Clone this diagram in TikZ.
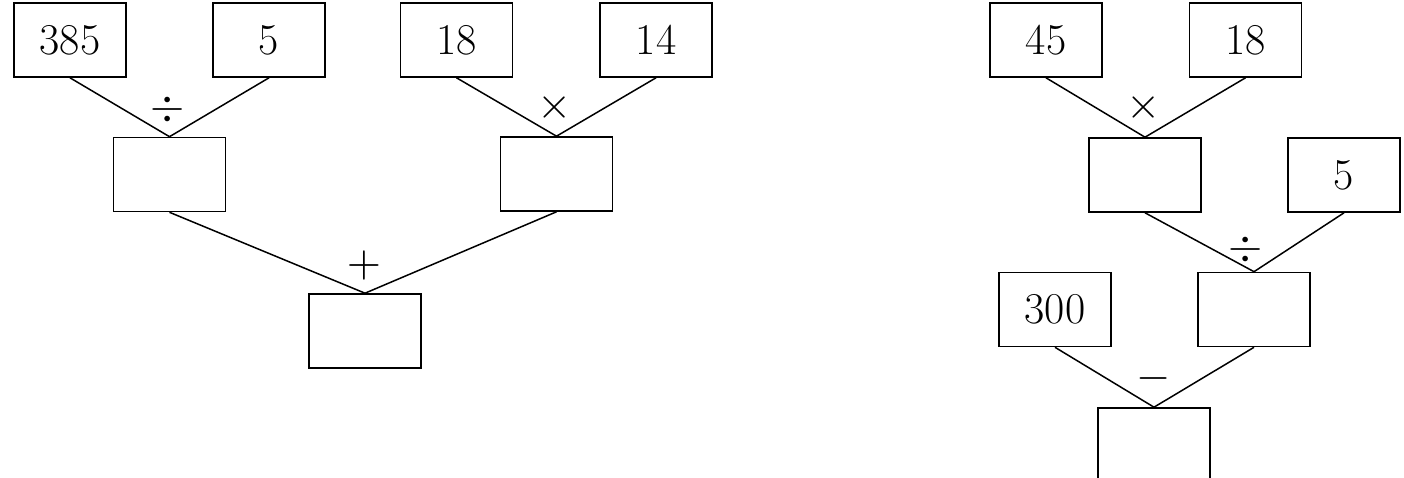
\documentclass[tikz,border=0pt]{standalone}
\usepackage{graphicx}
\newcommand{\bigop}[1]{\scalebox{4.4}{$#1$}}
\begin{document}
\begin{tikzpicture}[x=1pt,y=-1pt,
  numbox/.style={draw, line width=1.6pt, minimum width=112pt, minimum height=74pt, inner sep=0pt, font=\fontsize{44}{50}\selectfont},
  opsym/.style={inner sep=0pt},
  link/.style={line width=1.5pt}]
\useasboundingbox (0,0) rectangle (1404,478);
% left tree
\node[numbox] (a1) at (70,40) {385};
\node[numbox] (a2) at (269,40) {5};
\node[numbox] (a3) at (456.5,40) {18};
\node[numbox] (a4) at (656,40) {14};
\node[numbox] (b1) at (169.5,174.5) {};
\node[numbox] (b2) at (556.5,174) {};
\node[numbox] (c1) at (365,331) {};
\node[opsym] (o1) at (168,110) {\bigop{\div}};
\node[opsym] (o2) at (555,108) {\bigop{\times}};
\node[opsym] (o3) at (364,265) {\bigop{+}};
\draw[link] (a1.south) -- (b1.north);
\draw[link] (a2.south) -- (b1.north);
\draw[link] (a3.south) -- (b2.north);
\draw[link] (a4.south) -- (b2.north);
\draw[link] (b1.south) -- (c1.north);
\draw[link] (b2.south) -- (c1.north);
% right tree
\node[numbox] (d1) at (1046,40) {45};
\node[numbox] (d2) at (1245.5,40) {18};
\node[numbox] (e1) at (1145,175) {};
\node[numbox] (e2) at (1344,175) {5};
\node[numbox] (f1) at (1055,309.5) {300};
\node[numbox] (f2) at (1254,309.5) {};
\node[numbox] (g1) at (1154,445) {};
\node[opsym] (o4) at (1144,108) {\bigop{\times}};
\node[opsym] (o5) at (1246,249) {\bigop{\div}};
\node[opsym] (o6) at (1154,378) {\bigop{-}};
\draw[link] (d1.south) -- (e1.north);
\draw[link] (d2.south) -- (e1.north);
\draw[link] (e1.south) -- (f2.north);
\draw[link] (e2.south) -- (f2.north);
\draw[link] (f1.south) -- (g1.north);
\draw[link] (f2.south) -- (g1.north);
\end{tikzpicture}
\end{document}
